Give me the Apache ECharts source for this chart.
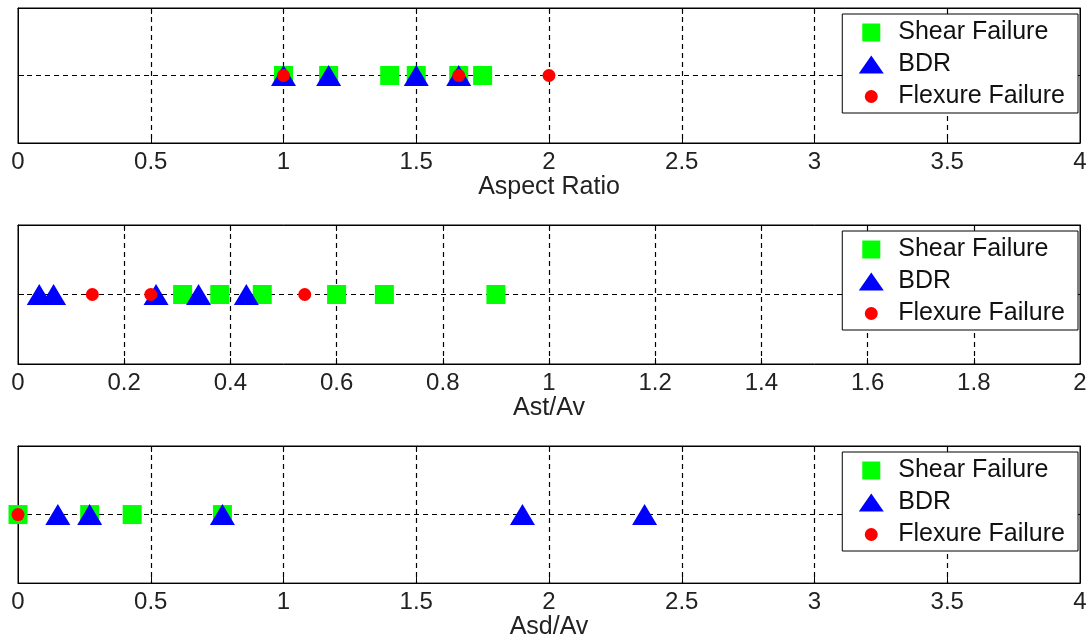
<!DOCTYPE html>
<html>
<head>
<meta charset="utf-8">
<script src="https://cdn.jsdelivr.net/npm/echarts@6/dist/echarts.min.js"></script>
<style>
  html, body { margin: 0; padding: 0; background: #fff; }
  #chart { width: 1092px; height: 641px; }
</style>
</head>
<body>
<div id="chart"></div>
<script>
// panel 1: Aspect Ratio
var aspectShear = [1.0, 1.17, 1.4, 1.5, 1.66, 1.75];
var aspectBDR = [1.0, 1.17, 1.5, 1.66];
var aspectFlex = [1.0, 1.66, 2.0];
// panel 2: Ast/Av
var astShear = [0.31, 0.38, 0.46, 0.6, 0.69, 0.9];
var astBDR = [0.04, 0.067, 0.26, 0.34, 0.43];
var astFlex = [0.14, 0.25, 0.54];
// panel 3: Asd/Av
var asdShear = [0, 0.27, 0.43, 0.77];
var asdBDR = [0.15, 0.27, 0.77, 1.9, 2.36];
var asdFlex = [0];

var axisTitles = ['Aspect Ratio', 'Ast/Av', 'Asd/Av'];
var axisMax = [4, 2, 4];
var axisStep = [0.5, 0.2, 0.5];

var FONT = 'Liberation Sans';

function pts(list) {
    var out = [];
    for (var i = 0; i < list.length; i++) out.push([list[i], 0]);
    return out;
}

var gridTops = [8, 225, 446];
var gridHeights = [135, 139, 138];

var grids = [], xAxes = [], yAxes = [], legends = [], series = [];
var panels = [
    [aspectShear, aspectBDR, aspectFlex],
    [astShear, astBDR, astFlex],
    [asdShear, asdBDR, asdFlex]
];

// legend icons padded to the same 26x22 box so the dot stays small
var pad = 'M0,0L0.01,0M26,22L25.99,22';
var iconSquare = 'path://' + pad + 'M4,2L22,2L22,20L4,20Z';
var iconTri = 'path://' + pad + 'M13,2L25.5,20L0.5,20Z';
var iconDot = 'path://' + pad + 'M13,4.5A6.5,6.5,0,1,1,12.99,4.5Z';

var tick = { show: true, inside: true, length: 6, lineStyle: { color: '#000' } };
var line = { show: true, onZero: false, lineStyle: { color: '#000', width: 1 } };
var dashed = { color: '#000', type: [5, 4], width: 1.2 };

for (var p = 0; p < 3; p++) {
    grids.push({
        left: 18, right: 12, top: gridTops[p], height: gridHeights[p],
        show: true, borderColor: '#000', borderWidth: 1, backgroundColor: '#fff'
    });
    xAxes.push({
        type: 'value', gridIndex: p, min: 0, max: axisMax[p], interval: axisStep[p],
        name: axisTitles[p], nameLocation: 'middle', nameGap: 31,
        nameTextStyle: { color: '#222', fontSize: 25, fontFamily: FONT },
        axisLine: line, axisTick: tick,
        axisLabel: { color: '#222', fontSize: 24, fontFamily: FONT, margin: 7 },
        splitLine: { show: true, showMinLine: false, showMaxLine: false, lineStyle: dashed }
    });
    // top copy for the inner ticks on the upper edge
    xAxes.push({
        type: 'value', gridIndex: p, position: 'top', min: 0, max: axisMax[p], interval: axisStep[p],
        axisLine: line, axisTick: tick, axisLabel: { show: false }, splitLine: { show: false }
    });
    yAxes.push({
        type: 'value', gridIndex: p, min: -1, max: 1, interval: 1,
        axisLine: line, axisTick: tick, axisLabel: { show: false },
        splitLine: { show: true, showMinLine: false, showMaxLine: false, lineStyle: dashed }
    });
    yAxes.push({
        type: 'value', gridIndex: p, position: 'right', min: -1, max: 1, interval: 1,
        axisLine: line, axisTick: tick, axisLabel: { show: false }, splitLine: { show: false }
    });
    legends.push({
        orient: 'vertical', right: 14, top: gridTops[p] + 6,
        backgroundColor: '#fff', borderColor: '#000', borderWidth: 1,
        padding: [6, 13, 4, 16], itemGap: 7, itemWidth: 26, itemHeight: 22,
        textStyle: { color: '#111', fontSize: 25, fontFamily: FONT, padding: [0, 0, 0, 9] },
        selectedMode: false, z: 10,
        data: [
            { name: 'Shear Failure', icon: iconSquare },
            { name: 'BDR', icon: iconTri },
            { name: 'Flexure Failure', icon: iconDot }
        ]
    });
    var d = panels[p];
    series.push({
        name: 'Shear Failure', type: 'scatter', xAxisIndex: 2 * p, yAxisIndex: 2 * p,
        symbol: 'rect', symbolSize: 19, clip: false, z: 3,
        itemStyle: { color: '#00ff00', opacity: 1 },
        data: pts(d[0])
    });
    series.push({
        name: 'BDR', type: 'scatter', xAxisIndex: 2 * p, yAxisIndex: 2 * p,
        symbol: 'triangle', symbolSize: [25, 21], clip: false, z: 4,
        itemStyle: { color: '#0000ff', opacity: 1 },
        data: pts(d[1])
    });
    series.push({
        name: 'Flexure Failure', type: 'scatter', xAxisIndex: 2 * p, yAxisIndex: 2 * p,
        symbol: 'circle', symbolSize: 13, clip: false, z: 5,
        itemStyle: { color: '#ff0000', opacity: 1 },
        data: pts(d[2])
    });
}

var myChart = echarts.init(document.getElementById('chart'));
myChart.setOption({
    animation: false,
    backgroundColor: '#fff',
    grid: grids,
    xAxis: xAxes,
    yAxis: yAxes,
    legend: legends,
    series: series
});
</script>
</body>
</html>
